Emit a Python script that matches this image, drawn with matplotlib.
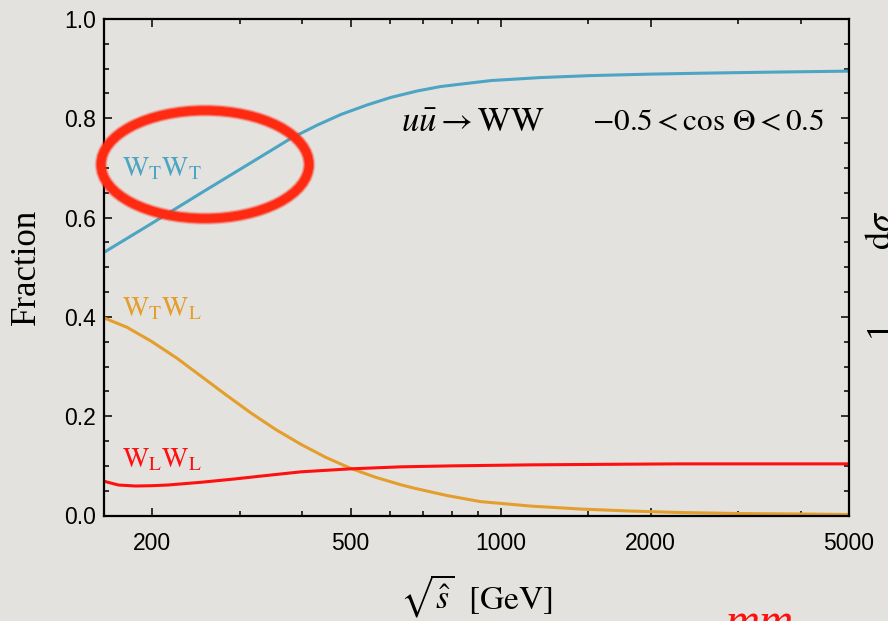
import matplotlib
matplotlib.use("Agg")
import matplotlib.pyplot as plt
from matplotlib.patches import Ellipse
from matplotlib.ticker import FixedLocator, NullFormatter

plt.rcParams['mathtext.fontset'] = 'stix'
plt.rcParams['font.family'] = ['Liberation Serif', 'DejaVu Serif']

# polarisation fractions vs sqrt(s-hat), u ubar -> WW, |cos Theta| < 0.5
sqrt_s_tt = [160, 200, 251, 316, 380, 430, 479, 540, 602, 680, 758, 956, 1200, 1515,
             2000, 2585, 3500, 5000]
frac_tt = [0.530, 0.589, 0.650, 0.711, 0.760, 0.787, 0.808, 0.827, 0.842, 0.855, 0.864,
           0.876, 0.882, 0.886, 0.889, 0.891, 0.893, 0.895]

sqrt_s_tl = [160, 178, 199, 224, 251, 282, 316, 354, 398, 446, 500, 561, 630, 671, 782,
             911, 1148, 1448, 1820, 2290, 3000, 4000, 5000]
frac_tl = [0.398, 0.379, 0.351, 0.317, 0.280, 0.242, 0.206, 0.173, 0.143, 0.117, 0.095,
           0.077, 0.062, 0.055, 0.040, 0.028, 0.019, 0.013, 0.009, 0.006, 0.004, 0.003, 0.002]

sqrt_s_ll = [160, 171, 185, 199, 215, 251, 292, 342, 398, 500, 630, 800, 1148, 1600,
             2290, 3200, 5000]
frac_ll = [0.069, 0.0614, 0.0594, 0.060, 0.0614, 0.067, 0.0735, 0.081, 0.088, 0.094,
           0.098, 0.100, 0.102, 0.103, 0.104, 0.104, 0.104]

x_major = [200, 500, 1000, 2000, 5000]
x_minor = [300, 400, 600, 700, 800, 900, 1500, 3000, 4000]
y_major = [0.0, 0.2, 0.4, 0.6, 0.8, 1.0]

bg = '#e4e2df'
c_tt = '#4ba5c3'
c_tl = '#e39e2c'
c_ll = '#ff1010'

fig = plt.figure(figsize=(8.88, 6.21), dpi=100, facecolor=bg)
ax = fig.add_axes([104 / 888, 105.5 / 621, 745 / 888, 496.5 / 621])
ax.set_facecolor(bg)

ax.plot(sqrt_s_tt, frac_tt, color=c_tt, lw=2.2, solid_joinstyle='round')
ax.plot(sqrt_s_tl, frac_tl, color=c_tl, lw=2.2, solid_joinstyle='round')
ax.plot(sqrt_s_ll, frac_ll, color=c_ll, lw=2.2, solid_joinstyle='round')

ax.set_xscale('log')
ax.set_xlim(160, 5000)
ax.set_ylim(0, 1)

ax.xaxis.set_major_locator(FixedLocator(x_major))
ax.xaxis.set_minor_locator(FixedLocator(x_minor))
ax.xaxis.set_minor_formatter(NullFormatter())
ax.set_xticklabels([str(v) for v in x_major])
ax.set_yticks(y_major)
ax.set_yticks([i * 0.05 for i in range(21)], minor=True)
ax.set_yticklabels([f'{v:.1f}' for v in y_major])

ax.tick_params(which='both', direction='in', top=True, right=True, width=1.1, color='black')
ax.tick_params(which='major', length=5.5)
ax.tick_params(which='minor', length=3.3)
ax.tick_params(axis='x', pad=12)
ax.tick_params(axis='y', pad=6)
for lab in ax.get_xticklabels() + ax.get_yticklabels():
    lab.set_family('Liberation Sans')
    lab.set_fontsize(16.5)
for sp in ax.spines.values():
    sp.set_linewidth(1.6)

ax.set_ylabel('Fraction', fontsize=25)
ax.yaxis.set_label_coords(-0.082, 0.5)
ax.set_xlabel(r'$\sqrt{\hat{s}}\ \ [\mathrm{GeV}]$', fontsize=24)
ax.xaxis.set_label_coords(0.5, -0.115)

ax.text(174, 0.684, r'$\mathrm{W_T W_T}$', color=c_tt, fontsize=20)
ax.text(174, 0.401, r'$\mathrm{W_T W_L}$', color=c_tl, fontsize=20)
ax.text(174, 0.098, r'$\mathrm{W_L W_L}$', color=c_ll, fontsize=20)
ax.text(630, 0.773, r'$u\bar{u} \rightarrow \mathrm{WW}$', fontsize=25)
ax.text(1528, 0.776, r'$-0.5 < \cos\,\Theta < 0.5$', fontsize=22.5)

# hand-drawn highlight around the W_T W_T label
for lw, alpha in [(9, 0.25), (7.5, 0.5), (6, 1.0)]:
    fig.add_artist(Ellipse((205 / 888, 1 - 164.5 / 621), 208 / 888, 108 / 621,
                           transform=fig.transFigure, fill=False,
                           edgecolor='#ff2a12', lw=lw, alpha=alpha))

# pieces of the neighbouring slide content at the edges
fig.text(882 / 888, 1 - 230 / 621, r'$\mathrm{d}\sigma$', rotation=90, fontsize=26,
         ha='center', va='center')
fig.text(880 / 888, 1 - 328 / 621, '1', rotation=90, fontsize=26,
         ha='center', va='center')
fig.text(725 / 888, -24 / 621, 'mm', color='#ff1010', fontsize=34, style='italic',
         ha='left', va='bottom')

fig.savefig('out.png', dpi=100, facecolor=bg)
